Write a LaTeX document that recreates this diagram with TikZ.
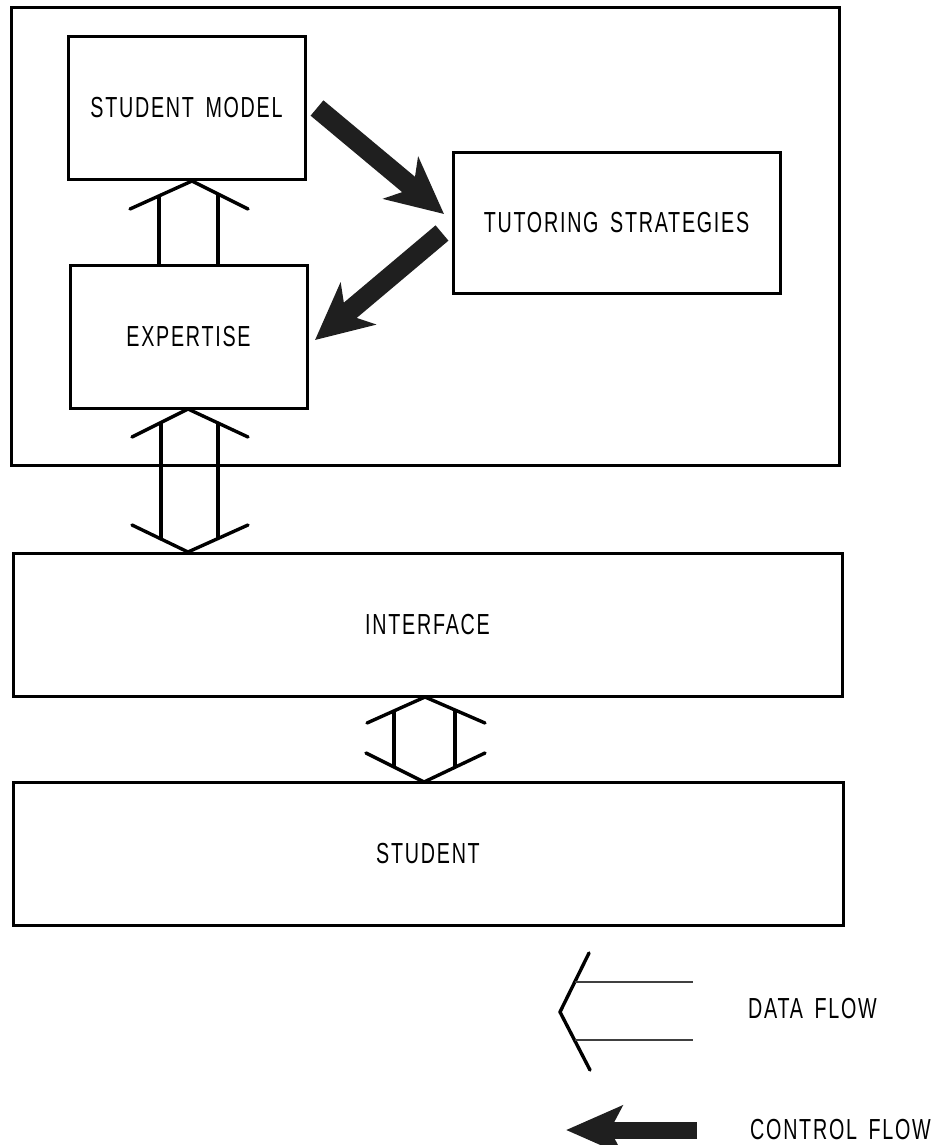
\documentclass[tikz,border=0pt]{standalone}
\usepackage{fontspec}
\setmainfont{Liberation Sans}[FakeStretch=0.68,LetterSpace=6,WordSpace=1.6]
\usetikzlibrary{arrows.meta}
\begin{document}
\begin{tikzpicture}[x=1pt,y=-1pt,
  box/.style={draw, line width=3pt, inner sep=0pt, font=\fontsize{29}{31}\selectfont},
  lbl/.style={inner sep=0pt, font=\fontsize{29}{31}\selectfont},
  dflow/.style={line width=3.4pt, line cap=round, line join=round},
  dshaft/.style={line width=3.2pt},
  thinshaft/.style={line width=1.6pt, draw=black!75},
  ctrl/.style={line width=20pt, draw=black!88, -{Stealth[length=56pt,width=54pt,inset=16pt]}}]
\useasboundingbox (0,0) rectangle (934,1145);

% boxes
\node[box, minimum width=828pt, minimum height=457pt] (outer) at (425,236.5) {};
\node[box, minimum width=237pt, minimum height=142pt] (sm) at (186.5,108) {STUDENT MODEL};
\node[box, minimum width=237pt, minimum height=143pt] (exp) at (188.5,336.5) {EXPERTISE};
\node[box, minimum width=327pt, minimum height=141pt] (ts) at (616.5,222.5) {TUTORING STRATEGIES};
\node[box, minimum width=829pt, minimum height=143pt] (iface) at (427.5,624.5) {INTERFACE};
\node[box, minimum width=830pt, minimum height=143pt] (stud) at (428,853.5) {STUDENT};

% control flow arrows
\coordinate (c1s) at (317,108);
\coordinate (c1e) at (444,214);
\coordinate (c2s) at (442,233);
\coordinate (c2e) at (315,340);
\draw[ctrl] (c1s) -- (c1e);
\draw[ctrl] (c2s) -- (c2e);

% data flow: expertise -> student model
\coordinate (a1) at (192,181);
\draw[dflow] (130,209) -- (a1) -- (248,209);
\draw[dshaft] (159,195.5) -- (159,265);
\draw[dshaft] (218,194) -- (218,265);

% data flow: expertise <-> interface
\coordinate (a2t) at (188,409);
\coordinate (a2b) at (188,552);
\draw[dflow] (132,437) -- (a2t) -- (248,437);
\draw[dflow] (132,525) -- (a2b) -- (248,525);
\draw[dshaft] (161,422.5) -- (161,538.5);
\draw[dshaft] (218,423) -- (218,538);

% data flow: interface <-> student
\coordinate (a3t) at (425,697);
\coordinate (a3b) at (424,782);
\draw[dflow] (367,723) -- (a3t) -- (485,723);
\draw[dflow] (366,753) -- (a3b) -- (485,753);
\draw[dshaft] (394,711) -- (394,768);
\draw[dshaft] (455,710) -- (455,768);

% legend
\coordinate (la) at (560,1012);
\draw[dflow] (589,953) -- (la) -- (590,1070);
\coordinate (l1) at (693,982);
\coordinate (l2) at (693,1040);
\draw[thinshaft] (574.7,982) -- (l1);
\draw[thinshaft] (574.5,1040) -- (l2);
\node[lbl, anchor=west] (dfl) at (748,1009) {DATA FLOW};

\coordinate (lcs) at (697,1130);
\coordinate (lce) at (566,1130);
\draw[line width=17pt, draw=black!88, -{Stealth[length=56pt,width=48pt,inset=12pt]}] (lcs) -- (lce);
\node[lbl, anchor=west] (cfl) at (750,1130) {CONTROL FLOW};
\end{tikzpicture}
\end{document}
